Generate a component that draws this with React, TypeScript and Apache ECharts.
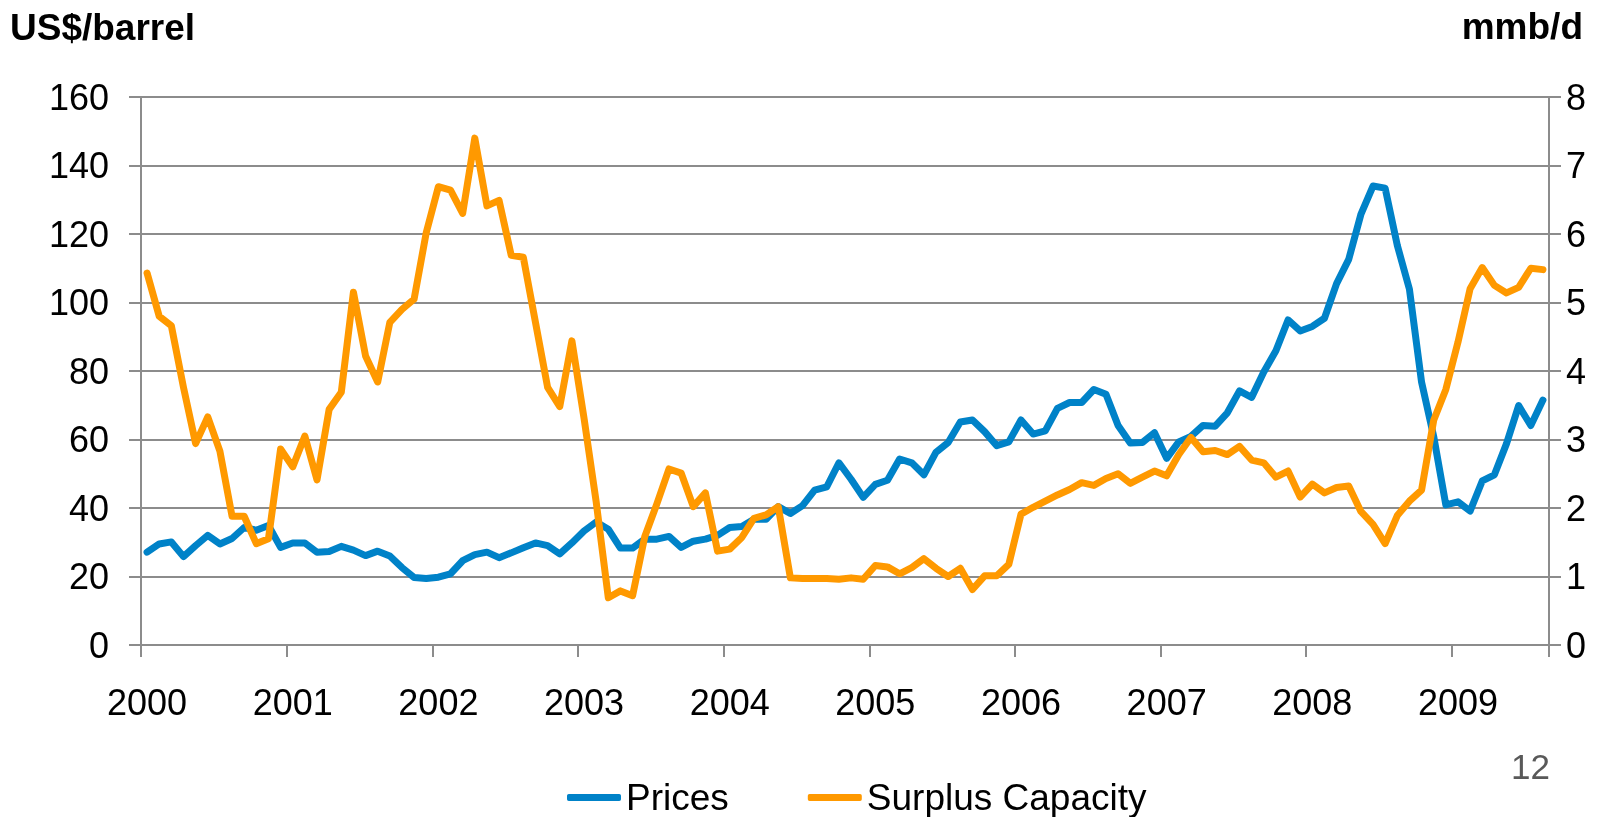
import React, { useEffect, useRef } from "react";
import * as echarts from "echarts";

const years = ["2000", "2001", "2002", "2003", "2004", "2005", "2006", "2007", "2008", "2009"];
const monthCodes = ["01", "02", "03", "04", "05", "06", "07", "08", "09", "10", "11", "12"];

const prices = [
  27.1, 29.5, 30.1, 25.8, 29.0, 32.0, 29.5, 31.1, 34.3, 33.5, 34.9, 28.5,
  29.8, 29.8, 27.1, 27.3, 28.8, 27.7, 26.1, 27.4, 26.0, 22.6, 19.7, 19.4,
  19.8, 20.8, 24.6, 26.4, 27.1, 25.5, 26.9, 28.4, 29.8, 29.0, 26.6, 29.8,
  33.3, 35.9, 33.8, 28.3, 28.3, 30.9, 30.9, 31.7, 28.5, 30.3, 30.9, 32.0,
  34.3, 34.6, 36.7, 36.7, 40.4, 38.4, 40.7, 45.2, 46.2, 53.2, 48.4, 43.1,
  46.9, 48.1, 54.3, 53.2, 49.7, 56.3, 59.1, 65.1, 65.7, 62.3, 58.2, 59.3,
  65.7, 61.6, 62.5, 69.1, 70.8, 70.8, 74.6, 73.2, 64.1, 59.0, 59.1, 62.0,
  54.5, 59.3, 60.9, 64.1, 63.9, 67.8, 74.2, 72.3, 79.7, 85.9, 94.9, 91.7,
  93.0, 95.4, 105.5, 112.6, 125.7, 134.0, 133.4, 116.7, 103.9, 76.8, 60.9, 40.9,
  41.8, 39.1, 47.9, 49.7, 58.8, 69.9, 64.1, 71.5,
];

const surplusCapacity = [
  5.43, 4.8, 4.66, 3.76, 2.94, 3.33, 2.83, 1.88, 1.88, 1.48, 1.55, 2.86,
  2.6, 3.05, 2.41, 3.44, 3.69, 5.15, 4.22, 3.84, 4.71, 4.9, 5.05, 6.02,
  6.69, 6.64, 6.3, 7.4, 6.41, 6.49, 5.69, 5.66, 4.71, 3.76, 3.48, 4.44,
  3.31, 2.09, 0.69, 0.79, 0.72, 1.58, 2.06, 2.57, 2.51, 2.02, 2.22, 1.37,
  1.4, 1.57, 1.85, 1.9, 2.02, 0.98, 0.97, 0.97, 0.97, 0.96, 0.98, 0.96,
  1.16, 1.14, 1.04, 1.13, 1.26, 1.12, 1.0, 1.12, 0.81, 1.01, 1.01, 1.18,
  1.91, 2.01, 2.1, 2.19, 2.27, 2.37, 2.33, 2.43, 2.5, 2.36, 2.45, 2.54,
  2.47, 2.78, 3.03, 2.82, 2.84, 2.78, 2.9, 2.7, 2.66, 2.45, 2.54, 2.16,
  2.35, 2.22, 2.3, 2.32, 1.95, 1.76, 1.48, 1.89, 2.1, 2.26, 3.28, 3.73,
  4.42, 5.2, 5.51, 5.25, 5.14, 5.22, 5.5, 5.48,
];

const leftTicks = { min: 0, max: 160, interval: 20 };
const rightTicks = { min: 0, max: 8, interval: 1 };

const seriesNames = ["Prices", "Surplus Capacity"];
const leftTitle = "US$/barrel";
const rightTitle = "mmb/d";
const pageNumber = "12";

const FONT = "'Liberation Sans', Arial, Helvetica, sans-serif";
const GRID_COLOR = "#8c8c8c";
const BLUE = "#0082C8";
const ORANGE = "#FF9900";

export default function App() {
  const ref = useRef<HTMLDivElement | null>(null);

  useEffect(() => {
    if (!ref.current) return;
    const chart = echarts.init(ref.current, undefined, { renderer: "svg" });

    const categories: string[] = [];
    years.forEach((y) => monthCodes.forEach((m) => categories.push(`${y}-${m}`)));
    const cats = categories.slice(0, prices.length);

    chart.setOption({
      animation: false,
      textStyle: { fontFamily: FONT },
      grid: { left: 141, right: 63, top: 97, bottom: 172, containLabel: false },
      legend: {
        data: seriesNames,
        left: 562,
        top: 774,
        icon: "roundRect",
        itemWidth: 54,
        itemHeight: 7,
        itemGap: 79,
        textStyle: { fontFamily: FONT, fontSize: 37, color: "#000" },
      },
      xAxis: {
        type: "category",
        data: cats,
        boundaryGap: true,
        axisLine: { show: true, lineStyle: { color: GRID_COLOR, width: 2 } },
        axisTick: { show: true, interval: 11, length: 12, lineStyle: { color: GRID_COLOR, width: 2 } },
        axisLabel: {
          interval: 11,
          margin: 39,
          fontSize: 36,
          color: "#000",
          fontFamily: FONT,
          formatter: (v: string) => v.slice(0, 4),
        },
        splitLine: { show: false },
      },
      yAxis: [
        {
          type: "value",
          min: leftTicks.min,
          max: leftTicks.max,
          interval: leftTicks.interval,
          axisLine: { show: true, lineStyle: { color: GRID_COLOR, width: 2 } },
          axisTick: { show: true, length: 12, lineStyle: { color: GRID_COLOR, width: 2 } },
          axisLabel: { margin: 32, fontSize: 36, color: "#000", fontFamily: FONT },
          splitLine: { show: true, lineStyle: { color: GRID_COLOR, width: 2 } },
        },
        {
          type: "value",
          position: "right",
          min: rightTicks.min,
          max: rightTicks.max,
          interval: rightTicks.interval,
          axisLine: { show: true, lineStyle: { color: GRID_COLOR, width: 2 } },
          axisTick: { show: true, length: 12, lineStyle: { color: GRID_COLOR, width: 2 } },
          axisLabel: { margin: 17, fontSize: 36, color: "#000", fontFamily: FONT },
          splitLine: { show: false },
        },
      ],
      series: [
        {
          name: seriesNames[0],
          type: "line",
          yAxisIndex: 0,
          data: prices,
          symbol: "none",
          lineStyle: { color: BLUE, width: 7, cap: "round", join: "round" },
          itemStyle: { color: BLUE },
        },
        {
          name: seriesNames[1],
          type: "line",
          yAxisIndex: 1,
          data: surplusCapacity,
          symbol: "none",
          lineStyle: { color: ORANGE, width: 7, cap: "round", join: "round" },
          itemStyle: { color: ORANGE },
        },
      ],
      graphic: [
        {
          type: "text",
          x: 10,
          y: 27,
          style: {
            text: leftTitle,
            fill: "#000",
            font: `bold 37px ${FONT}`,
            align: "left",
            verticalAlign: "middle",
            textAlign: "left",
            textVerticalAlign: "middle",
          },
        },
        {
          type: "text",
          x: 1583,
          y: 26,
          style: {
            text: rightTitle,
            fill: "#000",
            font: `bold 37px ${FONT}`,
            align: "right",
            verticalAlign: "middle",
            textAlign: "right",
            textVerticalAlign: "middle",
          },
        },
        {
          type: "text",
          x: 1550,
          y: 766,
          style: {
            text: pageNumber,
            fill: "#595959",
            font: `35px ${FONT}`,
            align: "right",
            verticalAlign: "middle",
            textAlign: "right",
            textVerticalAlign: "middle",
          },
        },
      ],
    });

    return () => chart.dispose();
  }, []);

  return (
    <div
      ref={ref}
      style={{ position: "fixed", left: 0, top: 0, width: 1612, height: 817 }}
    />
  );
}
